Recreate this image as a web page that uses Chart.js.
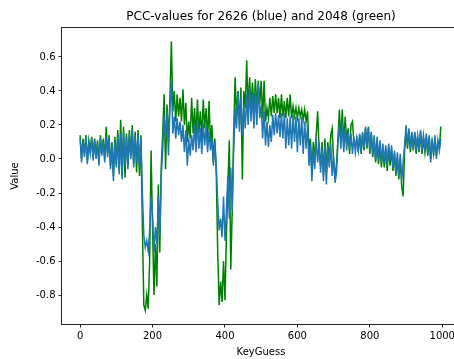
<!DOCTYPE html>
<html>
<head>
<meta charset="utf-8">
<script src="https://cdn.jsdelivr.net/npm/chart.js@4"></script>
<style>
  html, body { margin: 0; padding: 0; overflow: hidden; background: #fff; }
</style>
</head>
<body>
<canvas id="chart" width="470" height="359"></canvas>
<script>
// KeyGuess step between the sampled points
const keyStep = 4;

// PCC values for 2626 (blue), every 4 key guesses
const pcc2626 = [
  0.12, -0.02, 0.10, 0.01, 0.13, -0.03, 0.09, 0.03, 0.12, -0.01,
  0.11, 0.00, 0.09, -0.04, 0.12, 0.02, 0.10, -0.02, 0.13, 0.01,
  0.12, -0.06, 0.08, -0.13, 0.11, -0.05, 0.14, -0.09, 0.15, -0.12,
  0.16, -0.04, 0.13, -0.06, 0.15, 0.00, 0.17, -0.05, 0.14, -0.02,
  0.15, -0.05, 0.12, -0.20, -0.45, -0.52, -0.48, -0.54, -0.42, -0.22,
  -0.33, -0.55, -0.40, -0.50, -0.22, -0.45, -0.10, 0.05, 0.25, 0.12,
  0.28, 0.02, 0.30, 0.46, 0.15, 0.25, 0.12, 0.24, 0.14, 0.22,
  0.10, 0.20, 0.04, 0.17, -0.04, 0.12, 0.02, 0.14, 0.05, 0.20,
  0.04, 0.22, 0.06, 0.18, 0.03, 0.21, 0.08, 0.19, 0.04, 0.16,
  0.05, 0.12, -0.04, 0.10, -0.05, -0.25, -0.42, -0.35, -0.46, -0.22,
  -0.48, -0.30, -0.10, -0.35, -0.05, -0.30, 0.05, 0.30, 0.18, 0.40,
  0.16, 0.36, 0.14, 0.32, 0.18, 0.38, 0.20, 0.42, 0.22, 0.38,
  0.18, 0.40, 0.20, 0.44, 0.24, 0.32, 0.12, 0.28, 0.08, 0.22,
  0.07, 0.20, 0.10, 0.26, 0.14, 0.27, 0.15, 0.26, 0.13, 0.27,
  0.12, 0.27, 0.06, 0.24, 0.08, 0.25, 0.06, 0.26, 0.10, 0.25,
  0.04, 0.24, 0.08, 0.25, 0.03, 0.22, 0.06, 0.20, -0.04, 0.08,
  -0.13, 0.06, -0.06, 0.12, -0.02, 0.10, -0.08, 0.06, -0.13, 0.08,
  -0.15, 0.07, -0.05, 0.09, -0.10, 0.02, -0.14, -0.08, 0.10, 0.20,
  0.06, 0.22, 0.04, 0.18, 0.05, 0.16, 0.06, 0.15, 0.03, 0.13,
  0.04, 0.12, 0.05, 0.15, 0.04, 0.16, 0.06, 0.19, 0.08, 0.18,
  0.05, 0.16, 0.02, 0.14, -0.01, 0.13, 0.00, 0.11, -0.02, 0.09,
  -0.02, 0.08, -0.04, 0.09, -0.01, 0.08, -0.05, 0.05, -0.08, 0.04,
  -0.10, 0.03, -0.13, -0.02, 0.08, 0.20, 0.08, 0.18, 0.06, 0.16,
  0.06, 0.16, 0.07, 0.14, 0.05, 0.17, 0.05, 0.14, 0.06, 0.15,
  0.03, 0.14, -0.02, 0.12, 0.02, 0.14, 0.00, 0.11, 0.05, 0.12
];

// PCC values for 2048 (green)
const pcc2048 = [
  0.14, 0.00, 0.12, 0.03, 0.14, -0.01, 0.11, 0.05, 0.13, 0.01,
  0.12, 0.02, 0.11, -0.02, 0.14, 0.04, 0.12, 0.00, 0.19, 0.03,
  0.14, -0.04, 0.10, -0.10, 0.13, -0.03, 0.17, -0.07, 0.23, -0.10,
  0.19, -0.11, 0.15, -0.04, 0.17, 0.02, 0.20, -0.03, 0.16, -0.08,
  0.17, -0.10, 0.14, -0.40, -0.86, -0.89, -0.80, -0.88, -0.60, 0.05,
  -0.40, -0.80, -0.50, -0.75, -0.15, -0.55, -0.05, 0.15, 0.38, -0.06,
  0.32, 0.10, 0.35, 0.69, 0.28, 0.40, 0.22, 0.38, 0.25, 0.36,
  0.22, 0.41, 0.20, 0.33, 0.10, 0.22, 0.12, 0.36, 0.15, 0.30,
  0.12, 0.35, 0.15, 0.28, 0.12, 0.35, 0.18, 0.30, 0.10, 0.34,
  0.10, 0.20, -0.02, 0.12, -0.08, -0.55, -0.86, -0.72, -0.84, -0.60,
  -0.83, -0.45, -0.15, 0.11, -0.65, -0.30, 0.15, 0.48, 0.25, 0.40,
  0.20, 0.42, -0.12, 0.40, 0.30, 0.58, 0.28, 0.48, 0.30, 0.45,
  0.28, 0.47, 0.30, 0.46, 0.32, 0.46, 0.24, 0.46, 0.22, 0.30,
  0.24, 0.36, 0.25, 0.37, 0.27, 0.38, 0.27, 0.36, 0.24, 0.38,
  0.25, 0.34, 0.24, 0.36, 0.25, 0.38, 0.24, 0.31, 0.25, 0.30,
  0.24, 0.30, 0.25, 0.29, 0.23, 0.29, 0.22, 0.28, 0.05, 0.12,
  -0.08, 0.10, 0.00, 0.15, 0.28, 0.05, -0.04, 0.10, -0.10, 0.12,
  -0.08, 0.10, -0.02, 0.14, 0.18, -0.02, -0.10, -0.03, 0.12, 0.29,
  0.10, 0.29, 0.08, 0.25, 0.10, 0.18, 0.03, 0.20, 0.22, 0.10,
  0.08, 0.12, 0.04, 0.14, 0.03, 0.15, 0.05, 0.18, 0.06, 0.19,
  0.03, 0.15, 0.01, 0.12, -0.02, 0.10, -0.03, 0.08, -0.05, 0.06,
  -0.05, 0.06, -0.07, 0.07, -0.04, 0.05, -0.07, 0.03, -0.10, 0.01,
  -0.12, 0.00, -0.16, -0.22, 0.05, 0.16, 0.06, 0.17, 0.04, 0.15,
  0.05, 0.15, 0.03, 0.13, 0.04, 0.16, 0.03, 0.12, 0.04, 0.13,
  0.02, 0.13, 0.00, 0.10, 0.03, 0.12, 0.02, 0.10, 0.06, 0.19
];

const xTicks = [0, 200, 400, 600, 800, 1000];
const yTicks = [-0.8, -0.6, -0.4, -0.2, 0.0, 0.2, 0.4, 0.6];
const chartTitle = 'PCC-values for 2626 (blue) and 2048 (green)';

function toPoints(values) {
  return values.map((v, i) => ({ x: i * keyStep, y: v }));
}

// Draw the box around the plot area like matplotlib's spines
const frame = {
  id: 'frame',
  afterDraw(chart) {
    const a = chart.chartArea;
    const ctx = chart.ctx;
    ctx.save();
    ctx.strokeStyle = '#222';
    ctx.lineWidth = 1;
    ctx.strokeRect(Math.round(a.left) - 0.5, Math.round(a.top) - 0.5,
      Math.round(a.right - a.left) + 1, Math.round(a.bottom - a.top) + 1);
    ctx.restore();
  }
};

const font = { family: 'DejaVu Sans', size: 10 };

new Chart(document.getElementById('chart'), {
  type: 'line',
  data: {
    datasets: [{
      label: '2626',
      data: toPoints(pcc2626),
      borderColor: '#1f77b4',
      borderWidth: 1.5,
      pointRadius: 0,
      fill: false
    }, {
      label: '2048',
      data: toPoints(pcc2048),
      borderColor: '#008000',
      borderWidth: 1.5,
      pointRadius: 0,
      fill: false
    }]
  },
  options: {
    responsive: false,
    animation: false,
    layout: { padding: { left: 0, right: 10, top: 0, bottom: 0 } },
    plugins: {
      legend: { display: false },
      tooltip: { enabled: false },
      title: { display: false }
    },
    scales: {
      // empty top axis, only used to centre the title over the plot area
      top: {
        type: 'linear',
        position: 'top',
        min: -50,
        max: 1049,
        afterFit: s => { s.height = 28; },
        grid: { display: false },
        border: { display: false },
        ticks: { display: false },
        title: {
          display: true,
          text: chartTitle,
          color: '#000',
          font: { family: 'DejaVu Sans', size: 12 },
          padding: { top: 9.8, bottom: 0 }
        }
      },
      x: {
        type: 'linear',
        min: -50,
        max: 1049,
        afterFit: s => { s.height = 35; },
        afterBuildTicks: s => { s.ticks = xTicks.map(v => ({ value: v })); },
        grid: { drawOnChartArea: false, drawTicks: true, tickLength: 3.5, color: '#222' },
        border: { display: false },
        ticks: { color: '#000', font: font, padding: 3, maxRotation: 0, callback: v => String(v) },
        title: { display: true, text: 'KeyGuess', color: '#000', font: font, padding: { top: 0, bottom: 1 } }
      },
      y: {
        type: 'linear',
        min: -0.97,
        max: 0.77,
        afterFit: s => { s.width = 62; },
        afterBuildTicks: s => { s.ticks = yTicks.map(v => ({ value: v })); },
        grid: { drawOnChartArea: false, drawTicks: true, tickLength: 3.5, color: '#222' },
        border: { display: false },
        ticks: { color: '#000', font: font, padding: 3, callback: v => v.toFixed(1) },
        title: { display: true, text: 'Value', color: '#000', font: font, padding: { top: 9, bottom: 0 } }
      }
    }
  },
  plugins: [frame]
});
</script>
</body>
</html>
